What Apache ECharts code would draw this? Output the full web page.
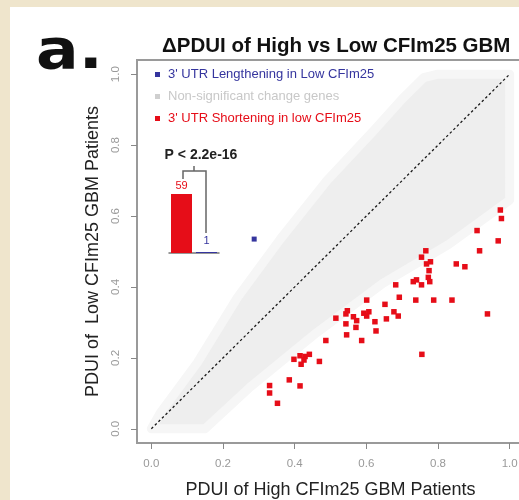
<!DOCTYPE html>
<html>
<head>
<meta charset="utf-8">
<script src="https://cdn.jsdelivr.net/npm/echarts@6/dist/echarts.min.js"></script>
<style>
  body { margin: 0; background: #efe5cc; }
  #panel { position: absolute; left: 10px; top: 7px; right: 0; bottom: 0; background: #fff; }
  #main { position: absolute; left: 0; top: 0; width: 519px; height: 500px; }
</style>
</head>
<body>
<div id="panel"></div>
<div id="main"></div>
<script>
// axis ticks (R style: box padded 4% beyond 0..1)
const tickValues = [0, 0.2, 0.4, 0.6, 0.8, 1.0]

// 3' UTR shortening in low CFIm25 (red), [high PDUI, low PDUI]
const shortening = [
  [0.974, 0.617], [0.977, 0.593], [0.909, 0.559], [0.968, 0.530], [0.916, 0.502],
  [0.766, 0.502], [0.754, 0.484], [0.779, 0.471], [0.768, 0.465], [0.775, 0.446],
  [0.851, 0.465], [0.875, 0.457], [0.773, 0.427], [0.740, 0.420], [0.731, 0.415],
  [0.754, 0.406], [0.777, 0.415], [0.682, 0.406], [0.692, 0.371], [0.738, 0.363],
  [0.788, 0.363], [0.839, 0.363], [0.938, 0.324], [0.601, 0.363], [0.652, 0.351],
  [0.677, 0.330], [0.689, 0.318], [0.656, 0.310], [0.607, 0.330], [0.601, 0.318],
  [0.593, 0.326], [0.624, 0.302], [0.627, 0.276], [0.547, 0.333], [0.543, 0.324],
  [0.564, 0.316], [0.573, 0.305], [0.571, 0.286], [0.543, 0.296], [0.515, 0.312],
  [0.545, 0.265], [0.587, 0.249], [0.487, 0.249], [0.469, 0.190], [0.441, 0.210],
  [0.429, 0.204], [0.415, 0.206], [0.398, 0.196], [0.426, 0.194], [0.418, 0.182],
  [0.385, 0.138], [0.415, 0.121], [0.330, 0.122], [0.330, 0.101], [0.352, 0.072],
  [0.755, 0.210]
]

// 3' UTR lengthening in low CFIm25 (blue)
const lengthening = [[0.287, 0.535]]

// outline of the grey cloud of non-significant genes
const cloudUpper = [
  [0, 0], [0.025, 0.045], [0.128, 0.186], [0.24, 0.37], [0.36, 0.535],
  [0.49, 0.70], [0.62, 0.84], [0.70, 0.93], [0.76, 0.99], [0.80, 1.0], [1.0, 1.0]
]
const cloudLower = [
  [0, 0], [0.15, 0.0], [0.276, 0.118], [0.46, 0.27], [0.646, 0.41],
  [0.83, 0.52], [1.0, 0.645], [1.0, 1.0]
]

const diagonal = [[0, 0], [1, 1]]

// inset bar: gene counts
const countNames = ['Shortening', 'Lengthening']
const countValues = [59, 1]

const FONT = 'Liberation Sans, Arial, sans-serif'
const RED = '#e60d18'
const BLUE = '#35359e'
const GREY = '#cfcfcf'

const chart = echarts.init(document.getElementById('main'))

const option = {
  backgroundColor: 'transparent',
  animation: false,
  textStyle: { fontFamily: FONT },
  title: {
    text: '\u0394PDUI of High vs Low CFIm25 GBM',
    left: 157,
    top: 31,
    textStyle: { fontSize: 20.5, fontWeight: 'bold', color: '#111', fontFamily: FONT }
  },
  legend: {
    orient: 'vertical',
    left: 150,
    top: 63,
    itemWidth: 5,
    itemHeight: 5,
    itemGap: 9,
    selectedMode: false,
    textStyle: { fontSize: 13, fontFamily: FONT, padding: [0, 0, 0, 3] },
    data: [
      { name: "3' UTR Lengthening in Low CFIm25", icon: 'rect', textStyle: { color: BLUE } },
      { name: 'Non-significant change genes', icon: 'rect', itemStyle: { color: GREY }, textStyle: { color: '#c8c8c8' } },
      { name: "3' UTR Shortening in low CFIm25", icon: 'rect', textStyle: { color: RED } }
    ]
  },
  grid: [
    {
      left: 137, top: 60, right: -5, bottom: 57,
      outerBoundsMode: 'none',
      show: true, borderColor: '#9a9a9a', borderWidth: 2
    },
    { left: 169, top: 194, width: 50, height: 59, outerBoundsMode: 'none' }
  ],
  xAxis: [
    {
      type: 'value', min: -0.04, max: 1.04, gridIndex: 0,
      name: 'PDUI of High CFIm25 GBM Patients',
      nameLocation: 'middle',
      nameGap: 38,
      nameTextStyle: { fontSize: 18, color: '#222', fontFamily: FONT },
      axisLine: { show: false, onZero: false },
      axisTick: { show: true, customValues: tickValues, length: 6, lineStyle: { color: '#888' } },
      axisLabel: {
        customValues: tickValues, margin: 15, fontSize: 11.5, color: '#999',
        formatter: v => v.toFixed(1)
      },
      splitLine: { show: false }
    },
    {
      type: 'category', gridIndex: 1, data: countNames,
      axisLine: { show: true, lineStyle: { color: '#777', width: 1.5 } },
      axisTick: { show: false },
      axisLabel: { show: false }
    }
  ],
  yAxis: [
    {
      type: 'value', min: -0.04, max: 1.04, gridIndex: 0,
      name: 'PDUI of  Low CFIm25 GBM Patients',
      nameLocation: 'middle',
      nameGap: 13,
      nameTextStyle: { fontSize: 18, color: '#222', fontFamily: FONT },
      axisLine: { show: false, onZero: false },
      axisTick: { show: true, customValues: tickValues, length: 6, lineStyle: { color: '#888' } },
      axisLabel: {
        customValues: tickValues, rotate: 90, margin: 15, fontSize: 11.5, color: '#999',
        formatter: v => v.toFixed(1)
      },
      splitLine: { show: false }
    },
    {
      type: 'value', gridIndex: 1, min: 0, max: 59, show: false
    }
  ],
  graphic: [
    {
      type: 'text', x: 36, y: 54, scaleX: 1.15, z: 10,
      style: { text: 'a.', font: 'bold 55px DejaVu Sans, sans-serif', fill: '#111', verticalAlign: 'middle' }
    },
    {
      type: 'text', x: 201, y: 155, z: 10,
      style: { text: 'P < 2.2e-16', font: 'bold 14px ' + FONT, fill: '#222', align: 'center', verticalAlign: 'middle' }
    },
    {
      type: 'polyline', z: 10,
      shape: { points: [[183, 179], [183, 171], [206, 171], [206, 233]] },
      style: { stroke: '#666', lineWidth: 1.5, fill: null }
    },
    {
      type: 'line', z: 10,
      shape: { x1: 194, y1: 171, x2: 194, y2: 166 },
      style: { stroke: '#666', lineWidth: 1.5 }
    }
  ],
  series: [
    {
      name: 'Non-significant change genes',
      type: 'custom',
      xAxisIndex: 0, yAxisIndex: 0,
      itemStyle: { color: '#efefef' },
      silent: true,
      z: 1,
      data: [0],
      renderItem: function (params, api) {
        const pts = cloudUpper.concat(cloudLower.slice().reverse()).map(p => api.coord(p))
        return {
          type: 'polygon',
          shape: { points: pts },
          style: { fill: '#eeeeee', stroke: '#f6f6f6', lineWidth: 9, lineJoin: 'round' }
        }
      }
    },
    {
      name: 'diagonal',
      type: 'line',
      xAxisIndex: 0, yAxisIndex: 0,
      data: diagonal,
      symbol: 'none',
      z: 2,
      lineStyle: { color: '#1a1a1a', width: 1.3, type: [2.5, 2.5] }
    },
    {
      name: "3' UTR Lengthening in Low CFIm25",
      type: 'scatter',
      xAxisIndex: 0, yAxisIndex: 0,
      symbol: 'rect',
      symbolSize: 5,
      z: 3,
      itemStyle: { color: BLUE, opacity: 1 },
      data: lengthening
    },
    {
      name: "3' UTR Shortening in low CFIm25",
      type: 'scatter',
      xAxisIndex: 0, yAxisIndex: 0,
      symbol: 'rect',
      symbolSize: 5.5,
      z: 3,
      itemStyle: { color: RED, opacity: 1 },
      data: shortening
    },
    {
      name: 'counts',
      type: 'bar',
      xAxisIndex: 1, yAxisIndex: 1,
      barWidth: 21,
      z: 5,
      label: { show: true, position: 'top', distance: 3, fontSize: 11, fontFamily: FONT },
      data: [
        { value: countValues[0], itemStyle: { color: RED }, label: { color: RED } },
        { value: countValues[1], itemStyle: { color: BLUE }, label: { color: BLUE, distance: 6 } }
      ]
    }
  ]
}

chart.setOption(option)
</script>
</body>
</html>
